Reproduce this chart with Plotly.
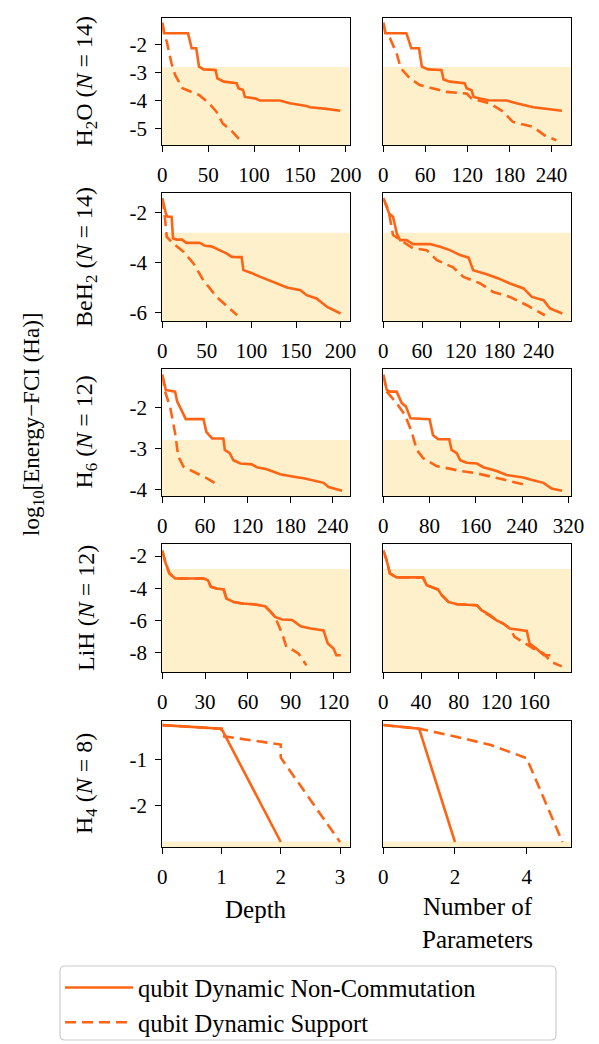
import plotly.graph_objects as go

W, H = 599, 1044
OFF = 8  # page body margin of the browser
FONT = "Liberation Serif"
LINE_COLOR = "#ff6414"
SHADE_COLOR = "#fff0cc"
CHEM_ACC = -2.796

# ---------------- data ----------------
molecule_labels = ["H<sub>2</sub>O (<i>N</i> = 14)", "BeH<sub>2</sub> (<i>N</i> = 14)",
                   "H<sub>6</sub> (<i>N</i> = 12)", "LiH (<i>N</i> = 12)", "H<sub>4</sub> (<i>N</i> = 8)"]
series_names = ["qubit Dynamic Non-Commutation", "qubit Dynamic Support"]

# H2O
h2o_depth_nc_x = [0, 2, 28, 32, 37, 40, 45, 58, 60, 67, 81, 83, 88, 90, 102, 106, 128, 139, 157, 161, 179, 194]
h2o_depth_nc_y = [-1.2, -1.58, -1.58, -2.12, -2.12, -2.78, -2.88, -2.9, -3.2, -3.32, -3.38, -3.56, -3.62, -3.87, -3.93, -4.0, -4.0, -4.1, -4.2, -4.24, -4.3, -4.37]
h2o_depth_s_x = [0, 2, 5, 8, 10, 14, 22, 40, 51, 59, 66, 75, 84]
h2o_depth_s_y = [-1.2, -1.58, -1.9, -2.4, -2.66, -3.08, -3.56, -3.8, -4.1, -4.4, -4.83, -5.07, -5.4]
h2o_par_nc_x = [0, 3, 33, 40, 51, 55, 64, 83, 86, 95, 116, 119, 126, 129, 138, 150, 176, 190, 214, 237, 255]
h2o_par_nc_y = [-1.2, -1.58, -1.58, -2.12, -2.12, -2.78, -2.88, -2.9, -3.24, -3.32, -3.38, -3.56, -3.63, -3.87, -3.93, -3.99, -4.0, -4.1, -4.24, -4.3, -4.37]
h2o_par_s_x = [0, 3, 9.5, 19, 25, 38, 52, 64, 90, 119, 126, 135, 152, 171, 185, 214, 230, 247]
h2o_par_s_y = [-1.2, -1.58, -1.76, -2.3, -2.84, -3.2, -3.44, -3.52, -3.69, -3.75, -3.93, -3.99, -4.1, -4.4, -4.77, -4.95, -5.25, -5.43]

# BeH2
beh2_depth_nc_x = [0, 4, 6, 10.5, 12, 16, 22, 27, 42, 48, 55, 65, 72, 78, 89, 91, 100, 110, 119, 132, 140, 155, 162, 173, 185, 200]
beh2_depth_nc_y = [-1.42, -2.03, -2.16, -2.16, -3.02, -3.07, -3.07, -3.2, -3.2, -3.32, -3.34, -3.49, -3.62, -3.76, -3.77, -4.29, -4.4, -4.56, -4.69, -4.89, -4.98, -5.09, -5.29, -5.42, -5.76, -6.02]
beh2_depth_s_x = [0, 3, 5, 12, 24, 35, 46, 61, 84]
beh2_depth_s_y = [-1.42, -2.2, -2.96, -3.22, -3.56, -4.02, -4.69, -5.36, -6.09]
beh2_par_nc_x = [0, 9, 15, 21, 26, 36, 46, 72, 88, 103, 119, 132, 139, 160, 178, 196, 217, 230, 248, 258, 277]
beh2_par_nc_y = [-1.42, -2.03, -2.16, -2.83, -3.09, -3.09, -3.25, -3.25, -3.36, -3.49, -3.69, -3.79, -4.29, -4.45, -4.62, -4.82, -5.02, -5.36, -5.49, -5.82, -6.02]
beh2_par_s_x = [0, 8, 15, 31, 46, 67, 83, 108, 124, 150, 170, 196, 222, 250]
beh2_par_s_y = [-1.42, -1.89, -2.89, -3.16, -3.42, -3.49, -3.89, -4.18, -4.56, -4.82, -5.16, -5.36, -5.69, -6.09]

# H6
h6_depth_nc_x = [0, 5, 18, 21, 27, 33, 58, 62, 70, 86, 88, 95, 100, 110, 126, 133, 147, 166, 185, 199, 227, 234, 253]
h6_depth_nc_y = [-1.21, -1.58, -1.62, -1.86, -2.07, -2.29, -2.29, -2.6, -2.76, -2.76, -3.04, -3.12, -3.29, -3.37, -3.39, -3.46, -3.51, -3.63, -3.69, -3.73, -3.84, -3.94, -4.03]
h6_depth_s_x = [0, 4, 11, 18, 22.5, 30, 44, 63, 81]
h6_depth_s_y = [-1.21, -1.62, -1.99, -2.63, -3.2, -3.45, -3.57, -3.73, -3.92]
h6_par_nc_x = [0, 6, 12, 23, 32, 39, 47, 80, 86, 95, 114, 118, 127, 133, 144, 162, 173, 196, 213, 242, 254, 277, 291, 309]
h6_par_nc_y = [-1.21, -1.58, -1.62, -1.62, -1.9, -1.98, -2.27, -2.29, -2.68, -2.78, -2.78, -3.04, -3.12, -3.29, -3.35, -3.37, -3.46, -3.55, -3.65, -3.71, -3.76, -3.84, -3.98, -4.03]
h6_par_s_x = [0, 6, 23, 37.5, 49, 58, 69, 92, 133, 162, 208, 248]
h6_par_s_y = [-1.21, -1.62, -1.9, -2.19, -2.6, -3.04, -3.24, -3.43, -3.55, -3.61, -3.76, -3.9]

# LiH
lih_depth_nc_x = [0, 2, 5, 9, 29, 32, 34, 38, 43, 45, 50, 56, 64, 72, 76, 79, 84, 91, 97, 104, 113, 116, 120, 122, 125]
lih_depth_nc_y = [-1.65, -2.35, -3.07, -3.39, -3.39, -3.49, -3.9, -4.01, -4.07, -4.63, -4.84, -4.94, -4.98, -5.1, -5.46, -5.77, -5.93, -5.96, -6.35, -6.49, -6.6, -7.42, -7.73, -8.14, -8.14]
lih_depth_s_x = [0, 2, 5, 9, 29, 32, 34, 38, 43, 45, 50, 56, 64, 72, 76, 79, 80, 84, 87, 92, 95.5, 99, 101]
lih_depth_s_y = [-1.65, -2.35, -3.07, -3.39, -3.39, -3.49, -3.9, -4.01, -4.07, -4.63, -4.84, -4.94, -4.98, -5.1, -5.46, -5.77, -5.98, -6.8, -7.63, -7.84, -8.04, -8.56, -8.77]
lih_par_nc_x = [0, 3.5, 7, 14, 42, 46, 58, 62, 69, 78, 99, 104, 113, 120, 127, 134, 152, 155, 162, 170, 177]
lih_par_nc_y = [-1.65, -2.25, -3.07, -3.32, -3.32, -3.8, -4.07, -4.42, -4.84, -4.98, -5.04, -5.35, -5.66, -5.98, -6.18, -6.49, -6.64, -7.42, -7.73, -8.14, -8.14]
lih_par_s_x = [0, 3.5, 7, 14, 42, 46, 58, 62, 69, 78, 99, 106, 113, 120, 127, 134, 139, 148, 159, 170, 178, 189]
lih_par_s_y = [-1.65, -2.25, -3.07, -3.32, -3.32, -3.8, -4.07, -4.42, -4.84, -4.98, -5.04, -5.45, -5.7, -5.98, -6.18, -6.49, -7.0, -7.32, -7.73, -8.04, -8.56, -8.83]

# H4
h4_depth_nc_x = [0, 1, 2]
h4_depth_nc_y = [-0.23, -0.31, -2.81]
h4_depth_s_x = [0, 1, 1, 2, 2, 3]
h4_depth_s_y = [-0.23, -0.31, -0.47, -0.66, -0.95, -2.81]
h4_par_nc_x = [0, 1, 2]
h4_par_nc_y = [-0.23, -0.31, -2.81]
h4_par_s_x = [0, 1, 2, 3, 4, 5]
h4_par_s_y = [-0.23, -0.31, -0.48, -0.67, -0.96, -2.81]

# axis settings (ranges / ticks)
y_ranges = [[-5.6, -1.03], [-6.32, -1.21], [-4.16, -1.07], [-9.18, -1.25], [-2.92, -0.14]]
y_ticks = [[-2, -3, -4, -5], [-2, -4, -6], [-2, -3, -4], [-2, -4, -6, -8], [-1, -2]]
x_ranges = [[[0, 204], [0, 267.5]], [[0, 210], [0, 290]], [[0, 263.5], [0, 324]],
            [[0, 131.2], [0, 198.5]], [[0, 3.16], [0, 5.23]]]
x_ticks = [[[0, 50, 100, 150, 200], [0, 60, 120, 180, 240]],
           [[0, 50, 100, 150, 200], [0, 60, 120, 180, 240]],
           [[0, 60, 120, 180, 240], [0, 80, 160, 240, 320]],
           [[0, 30, 60, 90, 120], [0, 40, 80, 120, 160]],
           [[0, 1, 2, 3], [0, 2, 4]]]

panel_data = [
    [[(h2o_depth_nc_x, h2o_depth_nc_y), (h2o_depth_s_x, h2o_depth_s_y)],
     [(h2o_par_nc_x, h2o_par_nc_y), (h2o_par_s_x, h2o_par_s_y)]],
    [[(beh2_depth_nc_x, beh2_depth_nc_y), (beh2_depth_s_x, beh2_depth_s_y)],
     [(beh2_par_nc_x, beh2_par_nc_y), (beh2_par_s_x, beh2_par_s_y)]],
    [[(h6_depth_nc_x, h6_depth_nc_y), (h6_depth_s_x, h6_depth_s_y)],
     [(h6_par_nc_x, h6_par_nc_y), (h6_par_s_x, h6_par_s_y)]],
    [[(lih_depth_nc_x, lih_depth_nc_y), (lih_depth_s_x, lih_depth_s_y)],
     [(lih_par_nc_x, lih_par_nc_y), (lih_par_s_x, lih_par_s_y)]],
    [[(h4_depth_nc_x, h4_depth_nc_y), (h4_depth_s_x, h4_depth_s_y)],
     [(h4_par_nc_x, h4_par_nc_y), (h4_par_s_x, h4_par_s_y)]],
]

# ---------------- layout geometry (screen pixels) ----------------
col_px = [(162.3, 349.5), (383.3, 570.7)]
row_px = [(18, 145), (193, 321), (369, 496), (544, 672), (721, 847)]


def px(xp):
    return (xp - OFF) / W


def py(yp):
    return 1 - (yp - OFF) / H


fig = go.Figure()
layout = dict(width=W, height=H, margin=dict(l=0, r=0, t=0, b=0, autoexpand=False),
              paper_bgcolor="white", plot_bgcolor="rgba(0,0,0,0)",
              font=dict(family=FONT, size=21, color="black"))
shapes = []
annotations = []

dash_styles = ["solid", "11px,6px"]

for r in range(5):
    for c in range(2):
        p = 2 * r + c + 1
        xa = "x" if p == 1 else f"x{p}"
        ya = "y" if p == 1 else f"y{p}"
        for s in range(2):
            xs, ys = panel_data[r][c][s]
            fig.add_trace(go.Scatter(
                x=xs, y=ys, mode="lines", xaxis=xa, yaxis=ya,
                name=series_names[s], legendgroup=series_names[s],
                showlegend=(p == 1),
                line=dict(color=LINE_COLOR, width=2.6, dash=dash_styles[s]),
            ))
        x0, x1 = col_px[c]
        t, b = row_px[r]
        layout["xaxis" + ("" if p == 1 else str(p))] = dict(
            domain=[px(x0), px(x1)], anchor=ya, range=x_ranges[r][c],
            tickvals=x_ticks[r][c], ticktext=[str(v) for v in x_ticks[r][c]],
            ticks="outside", ticklen=6, tickwidth=1.2, tickcolor="black",
            showline=True, linecolor="black", linewidth=1.3, mirror=True,
            showgrid=False, zeroline=False, ticklabelstandoff=5, automargin=False,
            tickfont=dict(size=21, family=FONT),
        )
        yax = dict(
            domain=[py(b), py(t)], anchor=xa, range=y_ranges[r],
            showline=True, linecolor="black", linewidth=1.3, mirror=True,
            showgrid=False, zeroline=False, automargin=False,
        )
        if c == 0:
            yax.update(tickvals=y_ticks[r], ticktext=[str(v) for v in y_ticks[r]],
                       ticks="outside", ticklen=6, tickwidth=1.2, tickcolor="black",
                       ticklabelstandoff=4, tickfont=dict(size=21, family=FONT))
        else:
            yax.update(showticklabels=False, ticks="")
        layout["yaxis" + ("" if p == 1 else str(p))] = yax
        # chemical accuracy shading
        shapes.append(dict(type="rect", xref=f"{xa} domain", yref=ya,
                           x0=0, x1=1, y0=y_ranges[r][0], y1=CHEM_ACC,
                           fillcolor=SHADE_COLOR, line=dict(width=0), layer="below"))
    # row label
    annotations.append(dict(text=molecule_labels[r], xref="paper", yref="paper",
                            x=px(86), y=py((row_px[r][0] + row_px[r][1]) / 2),
                            textangle=-90, showarrow=False, font=dict(size=24, family=FONT),
                            xanchor="center", yanchor="middle"))

annotations.append(dict(text="log<sub>10</sub>[Energy\u2212FCI (Ha)]", xref="paper", yref="paper",
                        x=px(33), y=py(425), textangle=-90, showarrow=False,
                        font=dict(size=23, family=FONT), xanchor="center", yanchor="middle"))
annotations.append(dict(text="Depth", xref="paper", yref="paper",
                        x=px((col_px[0][0] + col_px[0][1]) / 2), y=py(909),
                        showarrow=False, font=dict(size=25, family=FONT),
                        xanchor="center", yanchor="middle"))
annotations.append(dict(text="Number of<br>Parameters", xref="paper", yref="paper",
                        x=px((col_px[1][0] + col_px[1][1]) / 2), y=py(923),
                        showarrow=False, font=dict(size=25, family=FONT),
                        xanchor="center", yanchor="middle"))

# rounded legend frame
lx0, lx1, ly_top, ly_bot = px(60), px(556), py(966), py(1040)
rx, ry = 5 / W, 5 / H
path = (f"M{lx0 + rx},{ly_top} L{lx1 - rx},{ly_top} Q{lx1},{ly_top} {lx1},{ly_top - ry} "
        f"L{lx1},{ly_bot + ry} Q{lx1},{ly_bot} {lx1 - rx},{ly_bot} L{lx0 + rx},{ly_bot} "
        f"Q{lx0},{ly_bot} {lx0},{ly_bot + ry} L{lx0},{ly_top - ry} Q{lx0},{ly_top} {lx0 + rx},{ly_top} Z")
shapes.append(dict(type="path", xref="paper", yref="paper", path=path,
                   line=dict(color="#cccccc", width=1.2), fillcolor="white", layer="below"))

layout["shapes"] = shapes
layout["annotations"] = annotations
layout["legend"] = dict(x=px(60), y=py(965), xanchor="left", yanchor="top",
                        bgcolor="rgba(0,0,0,0)", borderwidth=0,
                        font=dict(size=24.5, family=FONT), itemwidth=68,
                        tracegroupgap=0)
layout["showlegend"] = True
fig.update_layout(**layout)
fig.write_html("out.html")
